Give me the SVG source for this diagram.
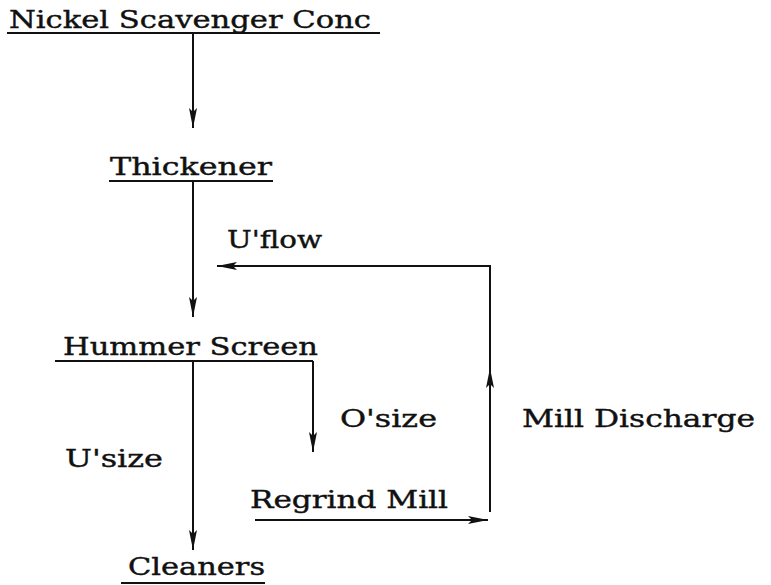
<svg xmlns="http://www.w3.org/2000/svg" width="771" height="585" viewBox="0 0 771 585">
<defs>
<style>
text{font-family:"DejaVu Serif","Liberation Serif",serif;font-size:24px;fill:#111;stroke:#111;stroke-width:0.4}
.ul{stroke:#111;stroke-width:2}
.c{stroke:#111;stroke-width:2;fill:none}
</style>
<marker id="ah" viewBox="0 0 20 10" refX="20" refY="5" markerWidth="20" markerHeight="10" markerUnits="userSpaceOnUse" orient="auto">
<path d="M0,1 L20,5 L0,9 L4,5 Z" fill="#111"/>
</marker>
</defs>
<rect width="771" height="585" fill="#fff"/>
<g id="nickel"><text x="9" y="28" textLength="362" lengthAdjust="spacingAndGlyphs">Nickel Scavenger Conc</text><line class="ul" x1="7" y1="33" x2="380" y2="33"/></g>
<g id="thickener"><text x="110" y="175" textLength="162" lengthAdjust="spacingAndGlyphs">Thickener</text><line class="ul" x1="109" y1="181" x2="273" y2="181"/></g>
<g id="hummer"><text x="63" y="355" textLength="255" lengthAdjust="spacingAndGlyphs">Hummer Screen</text><line class="ul" x1="55" y1="361" x2="313" y2="361"/></g>
<g id="regrind"><text x="250" y="508" textLength="198" lengthAdjust="spacingAndGlyphs">Regrind Mill</text></g>
<g id="cleaners"><text x="128" y="575" textLength="137" lengthAdjust="spacingAndGlyphs">Cleaners</text><line class="ul" x1="121" y1="583" x2="265" y2="583"/></g>
<g id="connectors">
<line class="c" x1="193" y1="33" x2="193" y2="128" marker-end="url(#ah)"/>
<line class="c" x1="193" y1="181" x2="193" y2="317" marker-end="url(#ah)"/>
<line class="c" x1="193" y1="361" x2="193" y2="550" marker-end="url(#ah)"/>
<line class="c" x1="313" y1="361" x2="313" y2="452" marker-end="url(#ah)"/>
<line class="c" x1="255" y1="520" x2="488" y2="520" marker-end="url(#ah)"/>
<line class="c" x1="490" y1="512" x2="490" y2="368" marker-end="url(#ah)"/>
<polyline class="c" points="490,370 490,266 217,266" marker-end="url(#ah)"/>
<text x="227" y="248" textLength="95" lengthAdjust="spacingAndGlyphs">U'flow</text>
<text x="340" y="427" textLength="97" lengthAdjust="spacingAndGlyphs">O'size</text>
<text x="65" y="467" textLength="98" lengthAdjust="spacingAndGlyphs">U'size</text>
<text x="522" y="427" textLength="233" lengthAdjust="spacingAndGlyphs">Mill Discharge</text>
</g>
</svg>
